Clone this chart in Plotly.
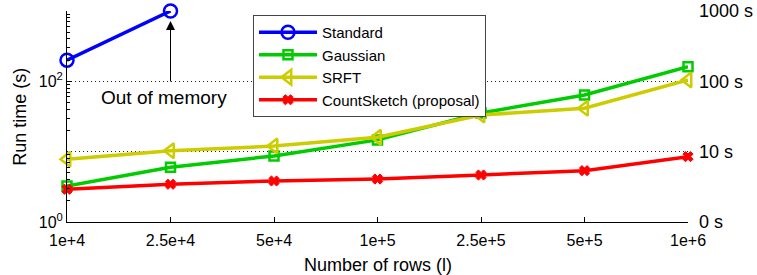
import math
import plotly.graph_objects as go

rows = ["1e+4", "2.5e+4", "5e+4", "1e+5", "2.5e+5", "5e+5", "1e+6"]
standard = [200, 1000]
gaussian = [3.25, 6.0, 8.7, 14.7, 35.5, 64, 161]
srft = [7.8, 10.3, 12.0, 16.0, 33.2, 41.4, 104.5]
countsketch = [2.92, 3.44, 3.83, 4.08, 4.66, 5.37, 8.5]

left_tickvals = [1, 100]
left_ticktext = ["10<sup>0</sup>", "10<sup>2</sup>"]
right_tickvals = [1, 10, 100, 1000]
right_ticktext = ["0 s", "10 s", "100 s", "1000 s"]
minor_vals = [m * d for d in (1, 10, 100) for m in range(2, 10)]

FONT = "Liberation Sans, Arial, Helvetica, sans-serif"
x_idx = list(range(len(rows)))

fig = go.Figure()

def add(name, ys, color, symbol, size, lw=2.5):
    fig.add_trace(go.Scatter(
        x=x_idx[:len(ys)], y=ys, name=name, mode="lines+markers",
        line=dict(color=color, width=3.5),
        marker=dict(symbol=symbol, size=size, color=color,
                    line=dict(color=color, width=lw)),
        cliponaxis=False,
    ))

add("Standard", standard, "#0000FF", "circle-open", 13)
add("Gaussian", gaussian, "#00CC00", "square-open", 9)
add("SRFT", srft, "#CCCC00", "triangle-left-open", 13)
add("CountSketch (proposal)", countsketch, "#FF0000", "x", 9, 1)

# invisible trace so the right axis is drawn
fig.add_trace(go.Scatter(x=[0], y=[1], yaxis="y2", mode="markers",
                         marker=dict(opacity=0), showlegend=False, hoverinfo="skip"))

fig.update_layout(
    width=757, height=275,
    margin=dict(l=67, r=69, t=11, b=53, autoexpand=False),
    paper_bgcolor="white", plot_bgcolor="white",
    font=dict(family=FONT, size=15, color="black"),
    showlegend=True,
    legend=dict(x=0.2995, y=0.981, xanchor="left", yanchor="top",
                bgcolor="white", bordercolor="#444", borderwidth=1,
                font=dict(size=15), itemwidth=58, tracegroupgap=0),
    xaxis=dict(
        range=[0, 6], tickvals=x_idx, ticktext=rows, automargin=False,
        showline=True, linecolor="black", linewidth=1,
        ticks="inside", ticklen=5, tickcolor="black",
        showgrid=False, zeroline=False, tickfont=dict(size=16),
        ticklabelstandoff=4,
    ),
    yaxis=dict(
        type="log", range=[0, 3], automargin=False,
        tickvals=left_tickvals, ticktext=left_ticktext,
        showline=True, linecolor="black", linewidth=1,
        ticks="inside", ticklen=5, tickcolor="black",
        minor=dict(tickvals=minor_vals, ticks="inside", ticklen=3,
                   tickcolor="black", showgrid=False),
        showgrid=False, zeroline=False, tickfont=dict(size=16),
    ),
    yaxis2=dict(
        type="log", range=[0, 3], overlaying="y", side="right", automargin=False,
        tickvals=right_tickvals, ticktext=right_ticktext,
        showline=False, ticks="", showgrid=True, griddash="1px,3px",
        gridcolor="#222", gridwidth=1, zeroline=False,
        tickfont=dict(size=18), ticklabelstandoff=10,
    ),
    annotations=[
        dict(x=1, y=3, xref="x", yref="y", text="", showarrow=True,
             ax=0, ay=72, standoff=10, arrowhead=2, arrowsize=1.8,
             arrowwidth=1, arrowcolor="black"),
        dict(x=1, y=(222 - 98) / 70.33, xref="x", yref="y", xshift=-7,
             text="Out of memory", showarrow=False,
             font=dict(size=19), xanchor="center", yanchor="middle"),
        dict(x=0.5, y=-0.204, xref="paper", yref="paper",
             text="Number of rows (l)", showarrow=False,
             font=dict(size=18), xanchor="center", yanchor="middle"),
        dict(x=-0.077, y=0.5, xref="paper", yref="paper",
             text="Run time (s)", showarrow=False, textangle=-90,
             font=dict(size=18), xanchor="center", yanchor="middle"),
    ],
)

fig.write_html(
    "out.html",
    config={"displayModeBar": False},
    post_script="document.body.style.margin='0';document.body.style.overflow='hidden';",
)
